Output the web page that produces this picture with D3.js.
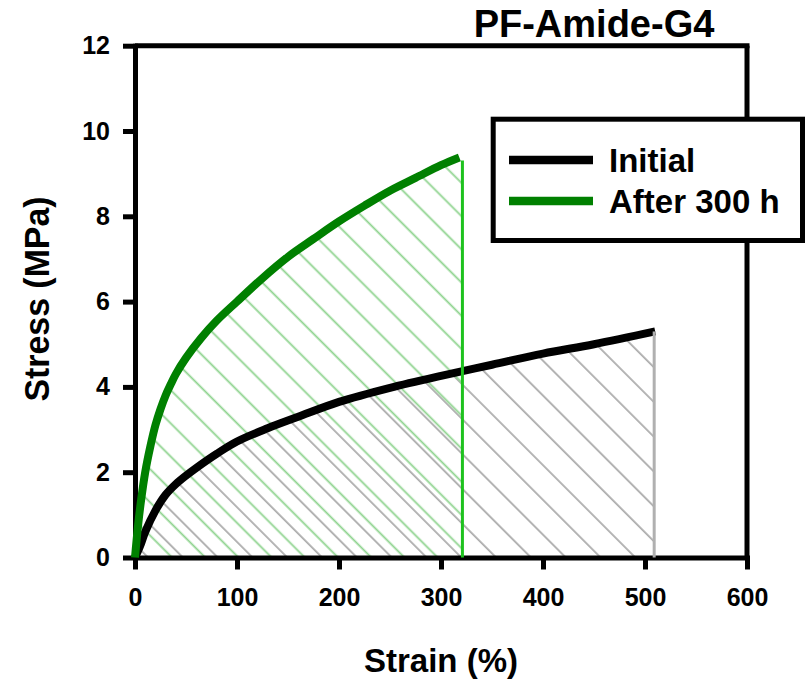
<!DOCTYPE html>
<html>
<head>
<meta charset="utf-8">
<script src="https://cdn.jsdelivr.net/npm/d3@7"></script>
<style>
  html, body { margin: 0; padding: 0; background: #fff; }
  svg { display: block; font-family: "Liberation Sans", Arial, Helvetica, sans-serif; }
</style>
</head>
<body>
<svg id="chart" width="807" height="680"></svg>
<script>
// ---- data ----
const initialStrain = [0, 5, 10, 20, 30, 40, 50, 60, 80, 100, 130, 160, 200, 250, 300, 350, 400, 450, 510];
const initialStress = [0, 0.27, 0.6, 1.1, 1.47, 1.72, 1.92, 2.1, 2.43, 2.72, 3.03, 3.3, 3.65, 3.98, 4.26, 4.52, 4.78, 5.0, 5.3];
const agedStrain = [0, 3, 6, 10, 15, 20, 25, 30, 35, 40, 50, 65, 80, 100, 125, 150, 175, 200, 225, 250, 275, 300, 318];
const agedStress = [0, 0.75, 1.35, 2.0, 2.6, 3.1, 3.48, 3.8, 4.06, 4.3, 4.68, 5.15, 5.55, 6.0, 6.55, 7.05, 7.47, 7.88, 8.25, 8.6, 8.9, 9.2, 9.38];
const breakStrain = [509, 321];          // vertical end lines: Initial, After 300 h
const breakStress = [5.3, 9.31];
const seriesNames = ["Initial", "After 300 h"];
const xTicks = [0, 100, 200, 300, 400, 500, 600];
const yTicks = [0, 2, 4, 6, 8, 10, 12];
const chartTitle = "PF-Amide-G4";
const xTitle = "Strain (%)";
const yTitle = "Stress (MPa)";

const svg = d3.select("#chart");
const x = d3.scaleLinear().domain([0, 600]).range([135, 747]);
const y = d3.scaleLinear().domain([0, 12]).range([557.5, 45.7]);

const initial = initialStrain.map((s, i) => [s, initialStress[i]]);
const aged = agedStrain.map((s, i) => [s, agedStress[i]]);

// ---- hatch patterns ----
const defs = svg.append("defs");
function hatch(id, spacing, offset, color) {
  const w = spacing / Math.SQRT2;
  const c = ((offset / Math.SQRT2) % w + w) % w;
  const p = defs.append("pattern").attr("id", id)
    .attr("patternUnits", "userSpaceOnUse")
    .attr("width", w).attr("height", 20)
    .attr("patternTransform", "rotate(-45)");
  p.append("rect").attr("x", c - 0.9).attr("y", -1).attr("width", 1.8).attr("height", 22).attr("fill", color);
}
hatch("hatchGray", 34.8, 8.2, "#acacac");
hatch("hatchGreen", 33.2, 13, "#8ed38e");

const curve = d3.curveCatmullRom.alpha(0.5);
const area = d3.area().x(d => x(d[0])).y0(y(0)).y1(d => y(d[1])).curve(curve);
const line = d3.line().x(d => x(d[0])).y(d => y(d[1])).curve(curve);

const initialArea = initial.concat([[breakStrain[0], breakStress[0]]]);
const agedArea = aged.concat([[breakStrain[1], breakStress[1]]]);

svg.append("path").attr("d", area(initialArea)).attr("fill", "url(#hatchGray)");
svg.append("path").attr("d", area(agedArea)).attr("fill", "url(#hatchGreen)");

// ---- axes ----
const xAxis = svg.append("g").attr("transform", `translate(0,${y(0)})`)
  .call(d3.axisBottom(x).tickValues(xTicks).tickSize(12).tickSizeOuter(0).tickPadding(18.5));
const yAxis = svg.append("g").attr("transform", `translate(${x(0)},0)`)
  .call(d3.axisLeft(y).tickValues(yTicks).tickSize(12).tickSizeOuter(0).tickPadding(13));
[xAxis, yAxis].forEach(g => {
  g.select(".domain").attr("stroke", "#000").attr("stroke-width", 5).attr("stroke-linecap", "square");
  g.selectAll(".tick line").attr("stroke", "#000").attr("stroke-width", 5);
  g.selectAll(".tick text").attr("fill", "#000").style("font-size", "25px").style("font-weight", "bold")
    .style("font-family", "'Liberation Sans', Arial, sans-serif");
});
// frame top & right
svg.append("line").attr("x1", x(0)).attr("x2", x(600) + 2.5).attr("y1", y(12)).attr("y2", y(12))
  .attr("stroke", "#000").attr("stroke-width", 5);
svg.append("line").attr("x1", x(600)).attr("x2", x(600)).attr("y1", y(12)).attr("y2", y(0))
  .attr("stroke", "#000").attr("stroke-width", 5);

// ---- curves ----
svg.append("path").attr("d", line(initial)).attr("fill", "none").attr("stroke", "#000").attr("stroke-width", 8);
svg.append("line").attr("x1", x(breakStrain[0])).attr("x2", x(breakStrain[0]))
  .attr("y1", y(breakStress[0])).attr("y2", y(0))
  .attr("stroke", "#b0b0b0").attr("stroke-width", 3);
svg.append("path").attr("d", line(aged)).attr("fill", "none").attr("stroke", "#008000").attr("stroke-width", 8);
svg.append("line").attr("x1", x(breakStrain[1])).attr("x2", x(breakStrain[1]))
  .attr("y1", y(breakStress[1])).attr("y2", y(0))
  .attr("stroke", "#1ec21e").attr("stroke-width", 3);

// ---- titles ----
svg.append("text").attr("x", 594).attr("y", 37).attr("text-anchor", "middle")
  .style("font-size", "38px").style("font-weight", "bold").text(chartTitle);
svg.append("text").attr("x", 441).attr("y", 672).attr("text-anchor", "middle")
  .style("font-size", "33px").style("font-weight", "bold").text(xTitle);
svg.append("text").attr("transform", "translate(49,299) rotate(-90)").attr("text-anchor", "middle")
  .attr("textLength", 205).attr("lengthAdjust", "spacingAndGlyphs")
  .style("font-size", "35px").style("font-weight", "bold").text(yTitle);

// ---- legend ----
const lg = svg.append("g");
lg.append("rect").attr("x", 493.2).attr("y", 119.2).attr("width", 309.3).attr("height", 121.3)
  .attr("fill", "#fff").attr("stroke", "#000").attr("stroke-width", 5);
const legendColors = ["#000", "#008000"];
seriesNames.forEach((name, i) => {
  const cy = 160 + i * 41;
  lg.append("line").attr("x1", 509).attr("x2", 593).attr("y1", cy).attr("y2", cy)
    .attr("stroke", legendColors[i]).attr("stroke-width", 8.5);
  lg.append("text").attr("x", 609).attr("y", cy + 12).style("font-size", "33px").style("font-weight", "bold")
    .text(name);
});
</script>
</body>
</html>
